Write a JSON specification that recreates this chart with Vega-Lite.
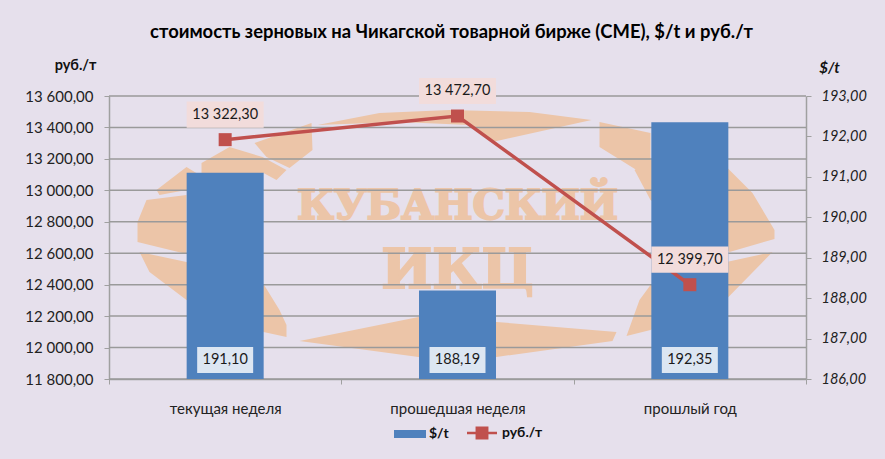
{
"$schema":"https://vega.github.io/schema/vega-lite/v6.json",
"width":697,"height":283,
"autosize":{"type":"none"},
"padding":{"left":109,"top":96,"right":79,"bottom":80},
"background":"#e6e0ec",
"config":{"locale":{"number":{"decimal":",","thousands":" ","grouping":[3],"currency":["","$"]}},"font":"Lato","view":{"stroke":null}},
"title":{"text":"стоимость зерновых на Чикагской товарной бирже (CME), $/t и руб./т","font":"Lato","fontSize":18.4,"fontWeight":"bold","color":"#000000","anchor":"middle","dx":-6,"offset":16,"frame":"group"},
"datasets":{
"t":[{"c":"текущая неделя","usd":191.10,"rub":13322.30},{"c":"прошедшая неделя","usd":188.19,"rub":13472.70},{"c":"прошлый год","usd":192.35,"rub":12399.70}],
"g":[{"v":11800},{"v":12000},{"v":12200},{"v":12400},{"v":12600},{"v":12800},{"v":13000},{"v":13200},{"v":13400},{"v":13600}],
"w":[{"c":"прошедшая неделя","y":12716,"a":12894,"b":12480}]
},
"layer":[
{"data":{"name":"w"},
 "mark":{"type":"point","filled":true,"fill":"#ecc5a8","stroke":null,"opacity":1,"size":40000,"shape":"M-1.40,-1.10L-0.78,-1.22L-0.08,-1.25L0.72,-1.23L1.34,-1.15L0.35,-0.93L0.12,-1.10L-0.58,-1.13ZM-2.03,-0.92L-1.46,-1.12L-1.45,-0.85L-1.68,-0.67L-1.91,-0.78ZM-2.56,-0.72L-2.28,-0.88L-1.95,-0.78L-1.71,-0.65L-1.81,-0.55L-1.94,-0.62L-2.56,-0.62ZM-3.01,-0.45L-2.71,-0.68L-2.53,-0.57L-2.71,-0.45L-2.98,-0.40ZM-3.11,-0.35L-2.71,-0.40L-2.71,0.19L-3.20,0.07L-3.20,-0.13ZM-3.18,0.17L-2.71,0.27L-1.94,0.49L-1.78,0.75L-1.71,0.90L-1.71,1.02L-1.94,0.97L-2.71,0.65L-3.08,0.37ZM-1.58,1.06L-0.39,0.82L0.39,0.87L1.59,0.97L1.55,1.06L0.39,1.22L-0.39,1.22ZM1.69,1.01L1.82,0.65L1.93,0.50L2.69,0.27L3.15,0.17L2.69,0.64L1.93,0.95ZM1.42,-1.13L1.93,-1.02L1.93,-0.75L1.79,-0.65L1.42,-0.88ZM1.77,-0.65L1.93,-0.75L2.69,-0.68L2.95,-0.42L3.17,-0.05L3.17,0.04L2.72,0.17L1.93,-0.35Z"},
 "encoding":{
  "x":{"field":"c","type":"nominal","sort":["текущая неделя","прошедшая неделя","прошлый год"],"scale":{"type":"band","paddingInner":0,"paddingOuter":0},
   "axis":{"title":null,"labelAngle":0,"labelFont":"Lato","labelFontSize":15,"labelColor":"#222222","labelPadding":17,"domainColor":"#a0a0a0","domainWidth":1.5,"tickColor":"#a0a0a0","tickSize":5,"tickBand":"extent"}},
  "y":{"field":"y","type":"quantitative","scale":{"domain":[11800,13600],"nice":false,"zero":false},
   "axis":{"orient":"left","values":[11800,12000,12200,12400,12600,12800,13000,13200,13400,13600],"format":",.2f","grid":false,"title":"руб./т","titleAngle":0,"titleX":-34,"titleY":-24,"titleAlign":"center","titleFont":"Lato","titleFontSize":14.5,"titleFontWeight":"bold","titleColor":"#111111","labelFont":"Lato","labelFontSize":15,"labelColor":"#222222","labelPadding":11,"domainColor":"#a0a0a0","domainWidth":1.5,"tickColor":"#a0a0a0","tickSize":5}}
 }},
{"data":{"name":"w"},
 "mark":{"type":"text","font":"DejaVu Serif","fontWeight":"bold","fontSize":40.5,"fill":"#ecc5a8","stroke":"#ecc5a8","strokeWidth":2},
 "encoding":{"x":{"field":"c","type":"nominal","sort":["текущая неделя","прошедшая неделя","прошлый год"],"scale":{"type":"band","paddingInner":0,"paddingOuter":0}},
  "y":{"field":"a","type":"quantitative","scale":{"domain":[11800,13600],"nice":false,"zero":false},"axis":null},
  "text":{"value":"КУБАНСКИЙ"}}},
{"data":{"name":"w"},
 "mark":{"type":"text","font":"DejaVu Serif","fontWeight":"bold","fontSize":54,"fill":"#ecc5a8","stroke":"#ecc5a8","strokeWidth":2},
 "encoding":{"x":{"field":"c","type":"nominal","sort":["текущая неделя","прошедшая неделя","прошлый год"],"scale":{"type":"band","paddingInner":0,"paddingOuter":0}},
  "y":{"field":"b","type":"quantitative","scale":{"domain":[11800,13600],"nice":false,"zero":false},"axis":null},
  "text":{"value":"ИКЦ"}}},
{"data":{"name":"g"},
 "mark":{"type":"rule","color":"#9a9a9a","strokeWidth":1.5},
 "encoding":{"y":{"field":"v","type":"quantitative","scale":{"domain":[11800,13600],"nice":false,"zero":false},"axis":null}}},
{"data":{"name":"t"},
 "mark":{"type":"bar","width":77,"fill":"#4f81bd"},
 "encoding":{
  "x":{"field":"c","type":"nominal","sort":["текущая неделя","прошедшая неделя","прошлый год"],"scale":{"type":"band","paddingInner":0,"paddingOuter":0}},
  "y":{"field":"usd","type":"quantitative","scale":{"domain":[186,193],"nice":false,"zero":false},
   "axis":{"orient":"right","values":[186,187,188,189,190,191,192,193],"format":",.2f","grid":false,"title":"$/t","titleAngle":0,"titleX":23,"titleY":-21,"titleAlign":"center","titleFont":"Lato","titleFontSize":15,"titleFontWeight":"bold","titleFontStyle":"italic","titleColor":"#111111","labelFont":"Lato","labelFontSize":14.5,"labelFontStyle":"italic","labelColor":"#222222","labelPadding":10,"domainColor":"#a0a0a0","domainWidth":1.5,"tickColor":"#a0a0a0","tickSize":5}},
  "y2":{"datum":186},
  "color":{"datum":"$/t","scale":{"domain":["$/t"],"range":["#4f81bd"]},
   "legend":{"title":null,"orient":"none","legendX":285,"legendY":322,"symbolType":"M-1,-0.25H1V0.25H-1Z","symbolSize":1024,"symbolStrokeWidth":0,"labelFont":"Lato","labelFontSize":14,"labelFontWeight":"bold","labelColor":"#111111","labelOffset":3}}
 }},
{"data":{"name":"t"},
 "mark":{"type":"line","strokeWidth":3.5},
 "encoding":{
  "x":{"field":"c","type":"nominal","sort":["текущая неделя","прошедшая неделя","прошлый год"],"scale":{"type":"band","paddingInner":0,"paddingOuter":0}},
  "y":{"field":"rub","type":"quantitative","scale":{"domain":[11800,13600],"nice":false,"zero":false},"axis":null},
  "color":{"datum":"руб./т","scale":{"domain":["руб./т"],"range":["#c0504d"]},
   "legend":{"title":null,"orient":"none","legendX":358,"legendY":322,"symbolType":"M-1,-0.08H-0.43V-0.43H0.43V-0.08H1V0.08H0.43V0.43H-0.43V0.08H-1Z","symbolSize":900,"symbolFillColor":"#c0504d","symbolStrokeWidth":0,"labelFont":"Lato","labelFontSize":14,"labelFontWeight":"bold","labelColor":"#111111","labelOffset":5}}
 }},
{"data":{"name":"t"},
 "mark":{"type":"point","filled":true,"fill":"#c0504d","stroke":null,"opacity":1,"shape":"square","size":169},
 "encoding":{
  "x":{"field":"c","type":"nominal","sort":["текущая неделя","прошедшая неделя","прошлый год"],"scale":{"type":"band","paddingInner":0,"paddingOuter":0}},
  "y":{"field":"rub","type":"quantitative","scale":{"domain":[11800,13600],"nice":false,"zero":false},"axis":null}}},
{"data":{"name":"t"},
 "mark":{"type":"point","filled":true,"fill":"#f2dcdb","stroke":null,"opacity":1,"shape":"M-1,-0.34H1V0.34H-1Z","size":5929,"yOffset":-25},
 "encoding":{
  "x":{"field":"c","type":"nominal","sort":["текущая неделя","прошедшая неделя","прошлый год"],"scale":{"type":"band","paddingInner":0,"paddingOuter":0}},
  "y":{"field":"rub","type":"quantitative","scale":{"domain":[11800,13600],"nice":false,"zero":false},"axis":null}}},
{"data":{"name":"t"},
 "mark":{"type":"text","font":"Lato","fontSize":14.5,"fill":"#1a1a1a","dy":-25},
 "encoding":{
  "x":{"field":"c","type":"nominal","sort":["текущая неделя","прошедшая неделя","прошлый год"],"scale":{"type":"band","paddingInner":0,"paddingOuter":0}},
  "y":{"field":"rub","type":"quantitative","scale":{"domain":[11800,13600],"nice":false,"zero":false},"axis":null},
  "text":{"field":"rub","type":"quantitative","format":",.2f"}}},
{"data":{"name":"t"},
 "mark":{"type":"point","filled":true,"fill":"#dce6f2","stroke":null,"opacity":1,"shape":"M-1,-0.46H1V0.46H-1Z","size":3136,"yOffset":-19},
 "encoding":{
  "x":{"field":"c","type":"nominal","sort":["текущая неделя","прошедшая неделя","прошлый год"],"scale":{"type":"band","paddingInner":0,"paddingOuter":0}},
  "y":{"datum":186,"scale":{"domain":[186,193],"nice":false,"zero":false},"axis":null}}},
{"data":{"name":"t"},
 "mark":{"type":"text","font":"Lato","fontSize":14.5,"fill":"#1a1a1a","yOffset":-19},
 "encoding":{
  "x":{"field":"c","type":"nominal","sort":["текущая неделя","прошедшая неделя","прошлый год"],"scale":{"type":"band","paddingInner":0,"paddingOuter":0}},
  "y":{"datum":186,"scale":{"domain":[186,193],"nice":false,"zero":false},"axis":null},
  "text":{"field":"usd","type":"quantitative","format":",.2f"}}}
],
"resolve":{"scale":{"y":"independent","color":"independent"},"axis":{"y":"independent"}}
}
